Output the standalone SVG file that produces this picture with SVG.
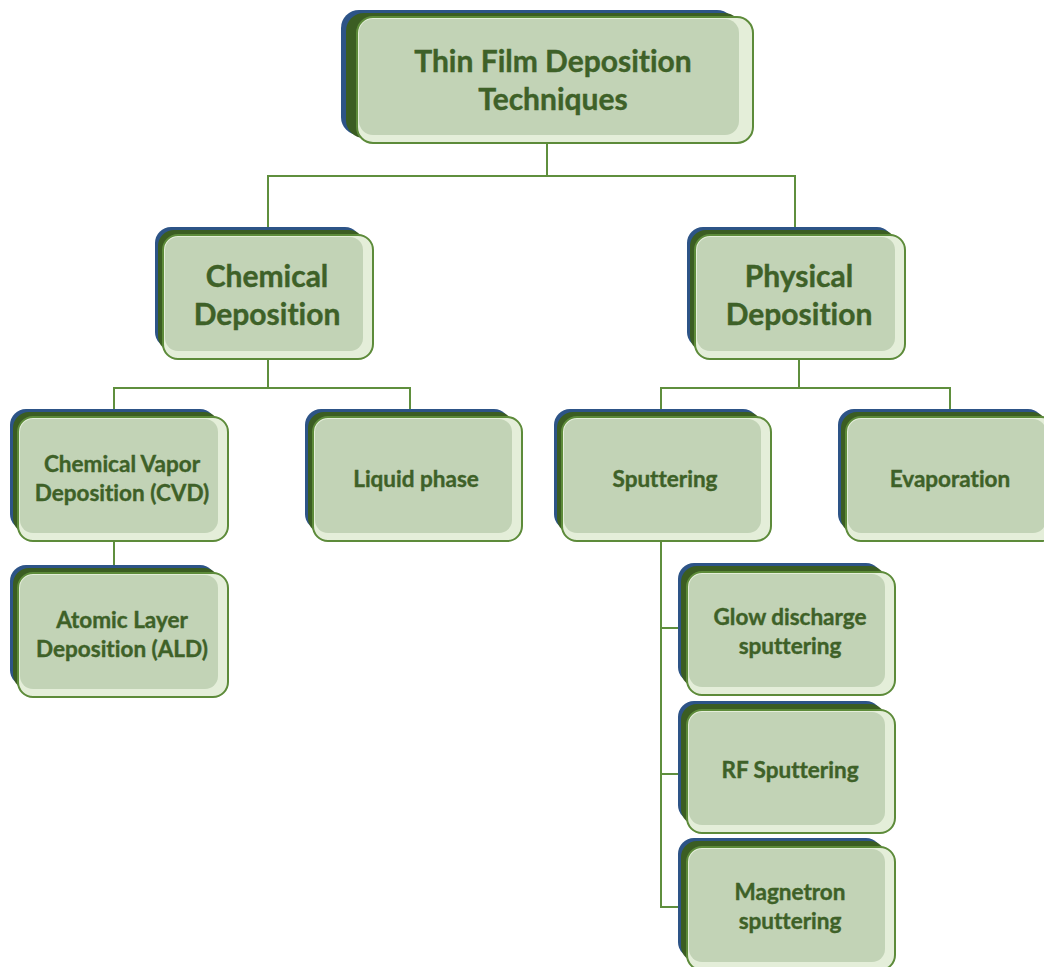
<svg xmlns="http://www.w3.org/2000/svg" width="1044" height="967" viewBox="0 0 1044 967">
<style>
.bk{fill:#2d5487}
.dg{fill:#3b5d22}
.fr{fill:#e4eed9;stroke:#5d8b3a;stroke-width:2}
.in{fill:#c2d3b6}
.t{font-family:Lato,"Liberation Sans",sans-serif;font-weight:700;fill:#3e6128;text-anchor:middle;font-variant-ligatures:none;font-feature-settings:"liga" 0;stroke:#3e6128;stroke-width:0.4}
.t1{font-size:30px}
.t2{font-size:30px}
.t3{font-size:22.5px}
.c{fill:none;stroke:#5f8f3d;stroke-width:2}
</style>
<rect width="1044" height="967" fill="#ffffff"/>
<g id="connectors">
<path class="c" d="M547 143V176M268 235V176H795V235"/>
<path class="c" d="M268 359V388M114 417V388H410V417"/>
<path class="c" d="M799 359V388M661 417V388H950V417"/>
<path class="c" d="M114 541V573"/>
<path class="c" d="M661 541V907H687M661 628H687M661 774H687"/>
</g>
<g id="n-top">
<rect class="bk" x="341" y="10" width="394" height="125" rx="18"/>
<rect class="dg" x="346" y="13" width="396" height="125" rx="18"/>
<rect class="fr" x="357" y="17" width="396" height="126" rx="16"/>
<rect class="in" x="359" y="19" width="380" height="116" rx="14"/>
<text class="t t1" x="553" y="72">Thin Film Deposition</text>
<text class="t t1" x="553" y="110">Techniques</text>
</g>
<g id="n-chem">
<rect class="bk" x="155" y="227" width="206" height="121" rx="16"/>
<rect class="dg" x="158" y="230" width="207" height="122" rx="16"/>
<rect class="fr" x="163" y="235" width="210" height="124" rx="15"/>
<rect class="in" x="165" y="237" width="198" height="114" rx="13"/>
<text class="t t2" x="267" y="287">Chemical</text>
<text class="t t2" x="267" y="325">Deposition</text>
</g>
<g id="n-phys">
<rect class="bk" x="687" y="227" width="206" height="121" rx="16"/>
<rect class="dg" x="690" y="230" width="207" height="122" rx="16"/>
<rect class="fr" x="695" y="235" width="210" height="124" rx="15"/>
<rect class="in" x="697" y="237" width="198" height="114" rx="13"/>
<text class="t t2" x="799" y="287">Physical</text>
<text class="t t2" x="799" y="325">Deposition</text>
</g>
<g id="n-cvd">
<rect class="bk" x="10" y="409" width="206" height="121" rx="16"/>
<rect class="dg" x="13" y="412" width="207" height="122" rx="16"/>
<rect class="fr" x="18" y="417" width="210" height="124" rx="15"/>
<rect class="in" x="20" y="419" width="198" height="114" rx="13"/>
<text class="t t3" x="122" y="472">Chemical Vapor</text>
<text class="t t3" x="122" y="501">Deposition (CVD)</text>
</g>
<g id="n-liquid">
<rect class="bk" x="305" y="409" width="205" height="121" rx="16"/>
<rect class="dg" x="308" y="412" width="206" height="122" rx="16"/>
<rect class="fr" x="313" y="417" width="209" height="124" rx="15"/>
<rect class="in" x="315" y="419" width="197" height="114" rx="13"/>
<text class="t t3" x="416" y="487">Liquid phase</text>
</g>
<g id="n-sputter">
<rect class="bk" x="554" y="409" width="205" height="121" rx="16"/>
<rect class="dg" x="557" y="412" width="206" height="122" rx="16"/>
<rect class="fr" x="562" y="417" width="209" height="124" rx="15"/>
<rect class="in" x="564" y="419" width="197" height="114" rx="13"/>
<text class="t t3" x="665" y="487">Sputtering</text>
</g>
<g id="n-evap">
<rect class="bk" x="838" y="409" width="206" height="121" rx="16"/>
<rect class="dg" x="841" y="412" width="207" height="122" rx="16"/>
<rect class="fr" x="846" y="417" width="210" height="124" rx="15"/>
<rect class="in" x="848" y="419" width="198" height="114" rx="13"/>
<text class="t t3" x="950" y="487">Evaporation</text>
</g>
<g id="n-ald">
<rect class="bk" x="10" y="565" width="206" height="121" rx="16"/>
<rect class="dg" x="13" y="568" width="207" height="122" rx="16"/>
<rect class="fr" x="18" y="573" width="210" height="124" rx="15"/>
<rect class="in" x="20" y="575" width="198" height="114" rx="13"/>
<text class="t t3" x="122" y="628">Atomic Layer</text>
<text class="t t3" x="122" y="657">Deposition (ALD)</text>
</g>
<g id="n-glow">
<rect class="bk" x="678" y="563" width="204" height="120" rx="16"/>
<rect class="dg" x="681" y="566" width="205" height="121" rx="16"/>
<rect class="fr" x="687" y="572" width="208" height="123" rx="15"/>
<rect class="in" x="689" y="574" width="196" height="113" rx="13"/>
<text class="t t3" x="790" y="625">Glow discharge</text>
<text class="t t3" x="790" y="654">sputtering</text>
</g>
<g id="n-rf">
<rect class="bk" x="678" y="701" width="204" height="120" rx="16"/>
<rect class="dg" x="681" y="704" width="205" height="121" rx="16"/>
<rect class="fr" x="687" y="710" width="208" height="123" rx="15"/>
<rect class="in" x="689" y="712" width="196" height="113" rx="13"/>
<text class="t t3" x="790" y="778">RF Sputtering</text>
</g>
<g id="n-mag">
<rect class="bk" x="678" y="838" width="204" height="120" rx="16"/>
<rect class="dg" x="681" y="841" width="205" height="121" rx="16"/>
<rect class="fr" x="687" y="847" width="208" height="123" rx="15"/>
<rect class="in" x="689" y="849" width="196" height="113" rx="13"/>
<text class="t t3" x="790" y="900">Magnetron</text>
<text class="t t3" x="790" y="929">sputtering</text>
</g>
</svg>
